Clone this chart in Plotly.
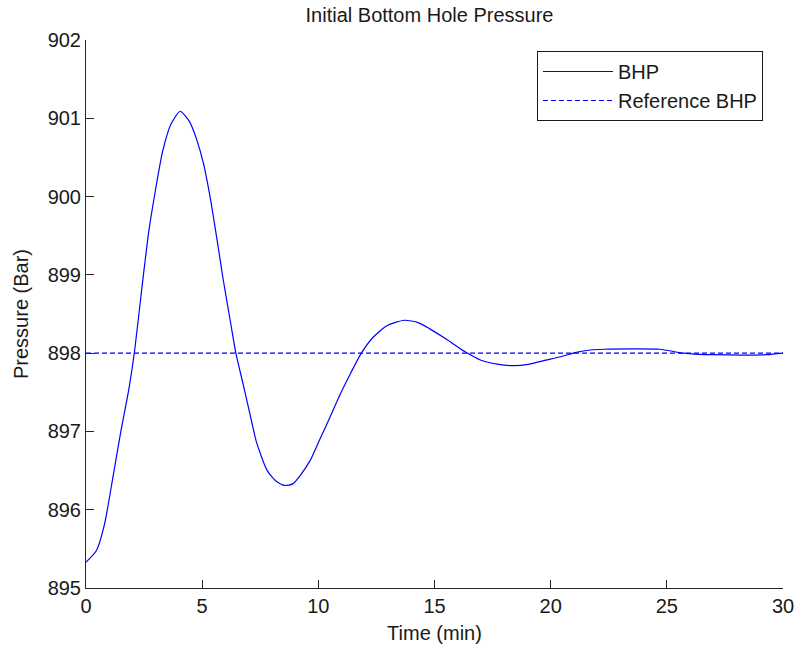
import plotly.graph_objects as go

# Data
time_min = [0, 0.45, 0.8, 1.15, 1.5, 1.85, 2.1, 2.4, 2.7, 3.0, 3.3, 3.65, 4.05, 4.45,
            4.75, 5.05, 5.35, 5.65, 5.9, 6.2, 6.45, 6.75, 7.05, 7.35, 7.8, 8.2, 8.55,
            8.9, 9.2, 9.65, 10.05, 10.5, 10.95, 11.4, 11.85, 12.35, 12.95, 13.7, 14.3,
            14.8, 15.5, 16.3, 17.0, 17.7, 18.4, 19.1, 19.8, 20.5, 21.1, 21.7, 22.3,
            23.5, 24.7, 25.7, 26.4, 27.0, 28.2, 29.3, 30.0]
bhp = [895.33, 895.48, 895.82, 896.40, 897.00, 897.55, 898.05, 898.82, 899.55, 900.10,
       900.58, 900.92, 901.09, 900.96, 900.74, 900.43, 899.98, 899.43, 898.95, 898.43,
       898.00, 897.62, 897.23, 896.85, 896.50, 896.36, 896.31, 896.33, 896.43, 896.63,
       896.89, 897.18, 897.48, 897.75, 898.00, 898.20, 898.35, 898.42, 898.39, 898.31,
       898.18, 898.02, 897.91, 897.86, 897.84, 897.86, 897.91, 897.96, 898.01, 898.04,
       898.05, 898.055, 898.05, 898.00, 897.985, 897.98, 897.975, 897.98, 898.00]
ref_time = [0, 30]
ref_bhp = [898, 898]

x_ticks = [0, 5, 10, 15, 20, 25, 30]
y_ticks = [895, 896, 897, 898, 899, 900, 901, 902]

FONT = "Liberation Sans, Arial, sans-serif"
TXT = "#1a1a1a"

fig = go.Figure()
fig.add_trace(go.Scatter(x=time_min, y=bhp, mode="lines", name="BHP",
                         line=dict(color="#0000ff", width=1.2, shape="spline", smoothing=0.6)))
fig.add_trace(go.Scatter(x=ref_time, y=ref_bhp, mode="lines", name="Reference BHP",
                         line=dict(color="#0000ff", width=1.2, dash="5px,3px")))

axis_common = dict(showline=True, linecolor="#262626", linewidth=1, mirror=False,
                   ticks="inside", ticklen=8, tickcolor="#262626", tickwidth=1,
                   showgrid=False, zeroline=False, ticklabeloverflow="allow",
                   automargin=False,
                   tickfont=dict(family=FONT, size=20, color=TXT))

fig.update_layout(
    width=794, height=648,
    margin=dict(l=86, r=11, t=40, b=60),
    paper_bgcolor="white", plot_bgcolor="white",
    font=dict(family=FONT, size=20, color=TXT),
    title=dict(text="Initial Bottom Hole Pressure", x=429.5 / 794, xanchor="center",
               y=1 - 15 / 648, yanchor="middle", yref="container",
               font=dict(family=FONT, size=20, color=TXT)),
    xaxis=dict(range=[0, 30], tickvals=x_ticks,
               title=dict(text="Time (min)", standoff=9,
                          font=dict(family=FONT, size=20, color=TXT)),
               **axis_common),
    yaxis=dict(range=[895, 902], tickvals=y_ticks,
               title=dict(text="Pressure (Bar)", standoff=13,
                          font=dict(family=FONT, size=20, color=TXT)),
               **axis_common),
    legend=dict(x=(537 - 86) / (783 - 86), y=1 - (51 - 40) / 548, xanchor="left", yanchor="top",
                bordercolor="#1a1a1a", borderwidth=1, bgcolor="white",
                font=dict(family=FONT, size=20, color=TXT), itemwidth=70,
                tracegroupgap=0),
    showlegend=True,
)

fig.write_html("out.html")
